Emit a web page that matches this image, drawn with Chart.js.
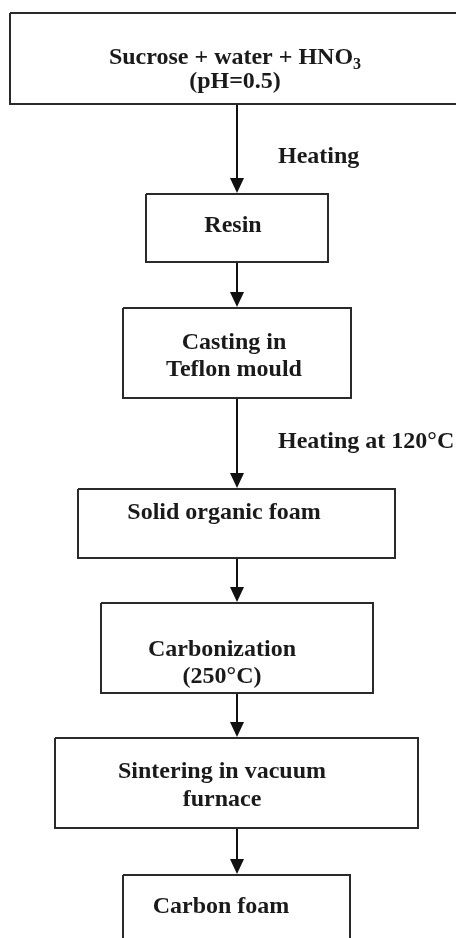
<!DOCTYPE html>
<html>
<head>
<meta charset="utf-8">
<script src="https://cdn.jsdelivr.net/npm/chart.js@4/dist/chart.umd.min.js"></script>
<style>
    html, body { margin: 0; padding: 0; background: #fff; }
    #Flow { display: block; }
</style>
</head>
<body>
<canvas id="Flow" width="456" height="938"></canvas>
<script>
// process steps, one entry per box ("_" marks a subscript character)
var stepLabels = [
    ["Sucrose + water + HNO_3", "(pH=0.5)"],
    ["Resin"],
    ["Casting in", "Teflon mould"],
    ["Solid organic foam"],
    ["Carbonization", "(250°C)"],
    ["Sintering in vacuum", "furnace"],
    ["Carbon foam"]
];
// conditions written beside the arrows between steps
var arrowLabels = ["Heating", "", "Heating at 120°C", "", "", ""];

// layout, in page units
var boxLeft = [10, 146, 123, 78, 101, 55, 123];
var boxRight = [462, 328, 351, 395, 373, 418, 350];
var boxTop = [13, 194, 308, 489, 603, 738, 875];
var boxBottom = [104, 262, 398, 558, 693, 828, 950];
var textX = [235, 233, 234, 224, 222, 222, 221];
var textY = [[58, 82], [226], [343, 370], [513], [650, 677], [772, 800], [907]];
var arrowX = 237;
var arrowLabelX = 278;
var arrowLabelY = [157, 0, 442, 0, 0, 0];

var ink = "#1a1a1a";
var lineColor = "#2a2a2a";
var font = "bold 24px 'Liberation Serif', 'Times New Roman', serif";
var subFont = "bold 16px 'Liberation Serif', 'Times New Roman', serif";

function boxDataset(i) {
    return {
        data: [
            { x: boxLeft[i], y: boxTop[i] },
            { x: boxRight[i], y: boxTop[i] },
            { x: boxRight[i], y: boxBottom[i] },
            { x: boxLeft[i], y: boxBottom[i] },
            { x: boxLeft[i], y: boxTop[i] }
        ],
        borderColor: lineColor,
        borderWidth: 2,
        borderJoinStyle: "miter",
        pointRadius: 0,
        fill: false,
        tension: 0
    };
}

function arrowDataset(i) {
    return {
        data: [
            { x: arrowX, y: boxBottom[i] },
            { x: arrowX, y: boxTop[i + 1] - 14 }
        ],
        borderColor: "#111",
        borderWidth: 2,
        pointRadius: 0,
        fill: false,
        tension: 0
    };
}

function drawLine(ctx, text, cx, cy) {
    var parts = text.split("_");
    ctx.font = font;
    var mainWidth = ctx.measureText(parts[0]).width;
    var subWidth = 0;
    if (parts.length > 1) {
        ctx.font = subFont;
        subWidth = ctx.measureText(parts[1]).width;
    }
    var left = cx - (mainWidth + subWidth) / 2;
    ctx.font = font;
    ctx.fillText(parts[0], left, cy);
    if (parts.length > 1) {
        ctx.font = subFont;
        ctx.fillText(parts[1], left + mainWidth, cy + 7);
    }
}

var flowText = {
    id: "flowText",
    afterDatasetsDraw: function (chart) {
        var ctx = chart.ctx;
        var xs = chart.scales.x;
        var ys = chart.scales.y;
        ctx.save();
        ctx.fillStyle = ink;
        ctx.textBaseline = "middle";
        ctx.textAlign = "left";

        // arrow heads
        for (var a = 0; a < boxTop.length - 1; a++) {
            var tipX = xs.getPixelForValue(arrowX);
            var tipY = ys.getPixelForValue(boxTop[a + 1] - 1);
            ctx.beginPath();
            ctx.moveTo(tipX, tipY);
            ctx.lineTo(tipX - 7, tipY - 15);
            ctx.lineTo(tipX + 7, tipY - 15);
            ctx.closePath();
            ctx.fillStyle = "#111";
            ctx.fill();
        }

        ctx.fillStyle = ink;
        stepLabels.forEach(function (lines, i) {
            lines.forEach(function (line, j) {
                drawLine(ctx, line, xs.getPixelForValue(textX[i]), ys.getPixelForValue(textY[i][j]));
            });
        });

        ctx.font = font;
        arrowLabels.forEach(function (label, i) {
            if (label) {
                ctx.fillText(label, xs.getPixelForValue(arrowLabelX), ys.getPixelForValue(arrowLabelY[i]));
            }
        });
        ctx.restore();
    }
};

function setupFlow() {
    var datasets = [];
    for (var i = 0; i < stepLabels.length; i++) {
        datasets.push(boxDataset(i));
    }
    for (var k = 0; k < stepLabels.length - 1; k++) {
        datasets.push(arrowDataset(k));
    }

    var context = document.getElementById("Flow").getContext("2d");
    var chart = new Chart(context, {
        type: "line",
        data: { datasets: datasets },
        options: {
            responsive: false,
            animation: false,
            events: [],
            layout: { padding: 0 },
            plugins: {
                legend: { display: false },
                tooltip: { enabled: false }
            },
            scales: {
                x: { type: "linear", min: 0, max: 456, display: false },
                y: { type: "linear", min: 0, max: 938, reverse: true, display: false }
            }
        },
        plugins: [flowText]
    });
}

setupFlow();
</script>
</body>
</html>
